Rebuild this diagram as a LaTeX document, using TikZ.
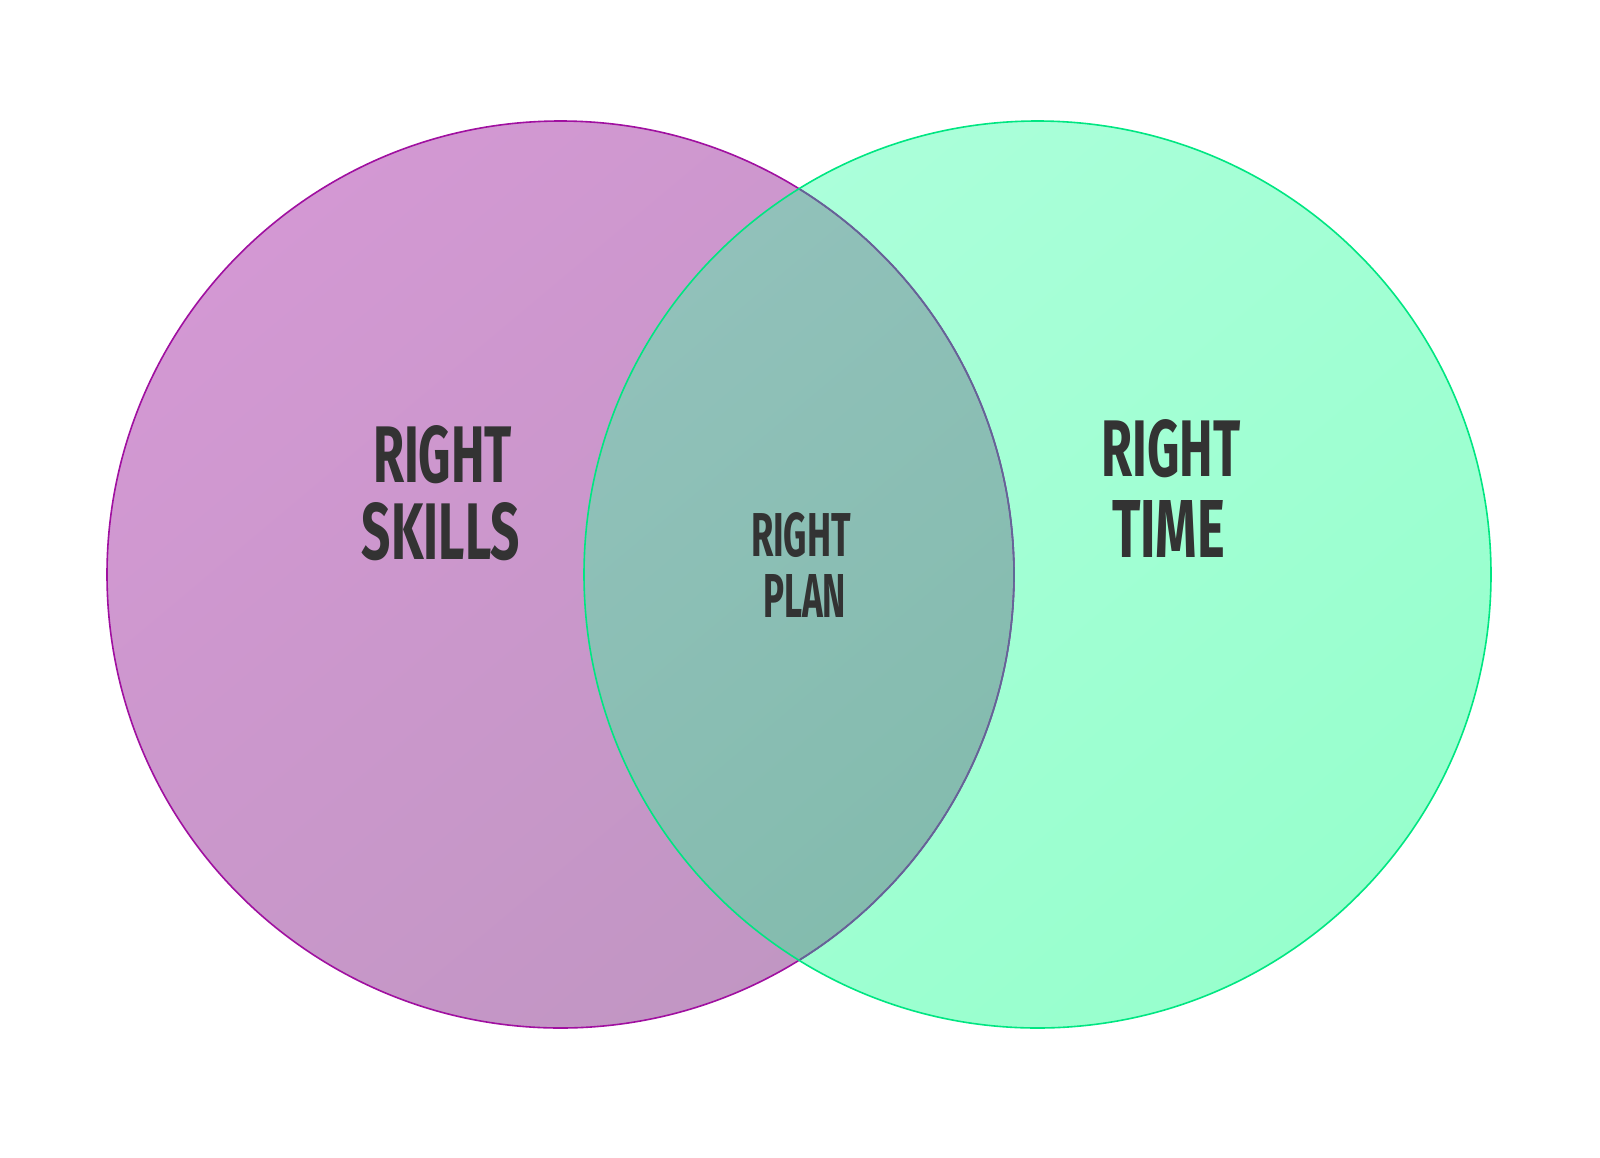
\documentclass[tikz,border=0pt]{standalone}
\usepackage{fontspec}
\usepackage{graphicx}
\setmainfont{Fira Sans}
\definecolor{txt}{RGB}{51,51,51}
\definecolor{lA}{RGB}{211,152,211}
\definecolor{lB}{RGB}{193,150,195}
\definecolor{rA}{RGB}{171,255,218}
\definecolor{rB}{RGB}{151,255,205}
\definecolor{oA}{RGB}{145,193,186}
\definecolor{oB}{RGB}{125,185,168}
\definecolor{lStroke}{RGB}{160,16,160}
\definecolor{rStroke}{RGB}{0,230,130}
\definecolor{oStroke}{RGB}{95,105,150}
\newcommand\fitword[3]{\resizebox{#1}{#2}{\bfseries #3}}
\tikzset{
  word/.style={inner sep=0pt, outer sep=0pt, text=txt},
}
\begin{document}
\begin{tikzpicture}[x=0.5pt,y=-0.5pt]
\useasboundingbox[fill=white] (0,0) rectangle (1600,1157);
\coordinate (cl) at (560.5,574.5);
\coordinate (cr) at (1037.5,574.5);
\def\rad{226.75pt}
% fills
\shade[top color=lA, bottom color=lB, shading angle=40] (cl) circle[radius=\rad];
\shade[top color=rA, bottom color=rB, shading angle=40] (cr) circle[radius=\rad];
\begin{scope}
  \clip (cl) circle[radius=\rad];
  \shade[top color=oA, bottom color=oB, shading angle=40] (cr) circle[radius=\rad];
\end{scope}
% outlines
\draw[lStroke, line width=0.8pt] (cl) circle[radius=\rad];
\begin{scope}
  \clip (cr) circle[radius=\rad];
  \draw[oStroke, line width=0.8pt] (cl) circle[radius=\rad];
\end{scope}
\draw[rStroke, line width=0.8pt] (cr) circle[radius=\rad];
% labels
\node[word] (skills1) at (442.5,454.5) {\fitword{69.5pt}{28.5pt}{RIGHT}};
\node[word] (skills2) at (441,531.5) {\fitword{79pt}{28.5pt}{SKILLS}};
\node[word] (plan1) at (801,535) {\fitword{50pt}{22pt}{RIGHT}};
\node[word] (plan2) at (804.5,595.5) {\fitword{41.5pt}{21.5pt}{PLAN}};
\node[word] (time1) at (1171,448.5) {\fitword{69.5pt}{28.5pt}{RIGHT}};
\node[word] (time2) at (1168.5,528.5) {\fitword{56.5pt}{28.5pt}{TIME}};
\end{tikzpicture}
\end{document}
